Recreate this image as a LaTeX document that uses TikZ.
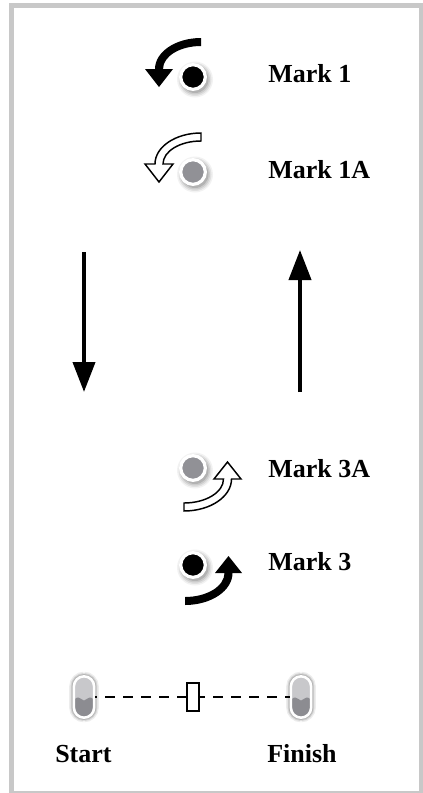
\documentclass[tikz,border=0pt]{standalone}
\usepackage{fontspec}
\setmainfont{Liberation Serif}
\usetikzlibrary{arrows.meta}
\definecolor{framegray}{RGB}{200,200,200}
\definecolor{dotgray}{RGB}{145,145,150}
\definecolor{swtop}{RGB}{200,200,203}
\definecolor{swbot}{RGB}{140,140,145}
\begin{document}
\begin{tikzpicture}[x=0.75pt,y=-0.75pt,
  lbl/.style={font=\fontsize{19.5}{22}\selectfont\bfseries, anchor=base west, inner sep=0pt},
  dot/.style={circle, draw=white, line width=2.4pt, minimum size=18.5pt, inner sep=0pt},
  vline/.style={line width=3pt, -{Triangle[length=22.5pt,width=16.5pt]}},
  curvefill/.style={fill=black},
  curveoutline/.style={draw=black, fill=white, line width=1.1pt, line join=miter},
  pill/.style={rectangle, draw=white, line width=1.9pt, rounded corners=7.6pt,
    minimum width=15.2pt, minimum height=31pt, inner sep=0pt,
    preaction={draw=black, draw opacity=0.07, line width=7pt},
    preaction={draw=black, draw opacity=0.10, line width=5pt},
    preaction={draw=black, draw opacity=0.14, line width=3.4pt},
    path picture={
      \fill[swtop] (path picture bounding box.north west) rectangle (path picture bounding box.south east);
      \fill[swbot] (path picture bounding box.south west) -- ([yshift=3pt]path picture bounding box.west)
        .. controls ([yshift=-3pt]path picture bounding box.center) .. ([yshift=3pt]path picture bounding box.east)
        -- (path picture bounding box.south east) -- cycle;}},
  slider/.style={rectangle, draw=black, fill=white, line width=1.5pt, minimum width=9pt, minimum height=21.5pt, inner sep=0pt},
  dashline/.style={line width=1.5pt, dash pattern=on 7.5pt off 6pt, dash phase=6pt}
]
\useasboundingbox (0,0) rectangle (422,793);
\fill[white] (0,0) rectangle (422,793);
% frame
\draw[framegray, line width=3.75pt] (11.5,5.5) rectangle (421.5,793.5);

% soft shadows of the dots
\foreach \cx/\cy in {193/77, 193/172, 193/468, 193/565}{
  \foreach \r/\o in {18/0.05, 16.5/0.07, 15/0.09, 13.5/0.12}
    \fill[black, opacity=\o] (\cx+2,\cy+2.5) circle[radius=\r];
}

% Mark 1 (filled arrow)
\path[curvefill] (201,38) arc[start angle=-90, end angle=-180, x radius=46, y radius=31]
  -- (145,69) -- (159,87) -- (173,69) -- (163,69)
  arc[start angle=-180, end angle=-90, x radius=38, y radius=23] -- cycle;
\node[dot, fill=black] (d1) at (193,77) {};
\node[lbl] (m1) at (268,82) {Mark 1};

% Mark 1A (outline arrow)
\path[curveoutline, shift={(0,95)}] (201,38) arc[start angle=-90, end angle=-180, x radius=46, y radius=31]
  -- (145,69) -- (159,87) -- (173,69) -- (163,69)
  arc[start angle=-180, end angle=-90, x radius=38, y radius=23] -- cycle;
\node[dot, fill=dotgray] (d1a) at (193,172) {};
\node[lbl] (m1a) at (268,178) {Mark 1A};

% vertical arrows
\coordinate (down1) at (84,252);
\coordinate (down2) at (84,392);
\coordinate (up1) at (300,392);
\coordinate (up2) at (300,250);
\draw[vline] (down1) -- (down2);
\draw[vline] (up1) -- (up2);

% Mark 3A (outline arrow)
\path[curveoutline, shift={(-1,-94)}] (185,605) arc[start angle=90, end angle=0, x radius=47.5, y radius=32]
  -- (242,573) -- (228.5,556) -- (215,573) -- (224.5,573)
  arc[start angle=0, end angle=90, x radius=39.5, y radius=24] -- cycle;
\node[dot, fill=dotgray] (d3a) at (193,468) {};
\node[lbl] (m3a) at (268,477) {Mark 3A};

% Mark 3 (filled arrow)
\path[curvefill] (185,605) arc[start angle=90, end angle=0, x radius=47.5, y radius=32]
  -- (242,573) -- (228.5,556) -- (215,573) -- (224.5,573)
  arc[start angle=0, end angle=90, x radius=39.5, y radius=24] -- cycle;
\node[dot, fill=black] (d3) at (193,565) {};
\node[lbl] (m3) at (268,570) {Mark 3};

% switches
\node[pill] (start) at (84,697) {};
\node[pill] (finish) at (301,697) {};
\draw[dashline] (start.east) -- (finish.west);
\node[slider] (mid) at (193,697) {};
\node[lbl] (tstart) at (55,762) {Start};
\node[lbl] (tfinish) at (267,762) {Finish};
\end{tikzpicture}
\end{document}
